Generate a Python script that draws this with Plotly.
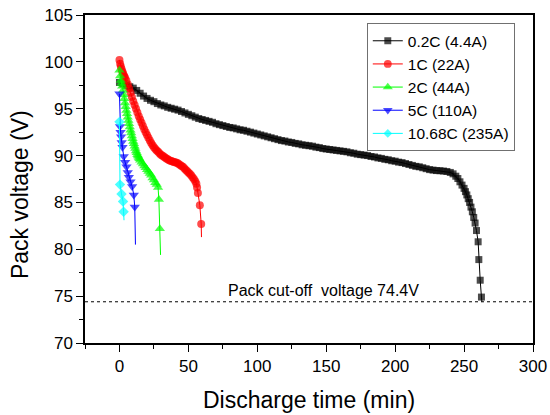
import plotly.graph_objects as go

# ---------------- data ----------------
t_02c = [0, 2.5, 5, 7.5, 10, 12.5, 15, 17.5, 20, 22.5, 25, 27.5, 30, 32.5, 35, 37.5,
         40, 42.5, 45, 47.5, 50, 52.5, 55, 57.5, 60, 62.5, 65, 67.5, 70, 72.5, 75,
         77.5, 80, 82.5, 85, 87.5, 90, 92.5, 95, 97.5, 100, 102.5, 105, 107.5, 110,
         112.5, 115, 117.5, 120, 122.5, 125, 127.5, 130, 132.5, 135, 137.5, 140,
         142.5, 145, 147.5, 150, 152.5, 155, 157.5, 160, 162.5, 165, 167.5, 170,
         172.5, 175, 177.5, 180, 182.5, 185, 187.5, 190, 192.5, 195, 197.5, 200,
         202.5, 205, 207.5, 210, 212.5, 215, 217.5, 220, 222.5, 225, 227.5, 230,
         232.5, 235, 237.5, 240, 242, 244, 245.5, 247, 248.5, 250, 251, 252, 253,
         254, 255, 256, 257, 258, 259, 260.2, 260.7, 261.7, 262.6, 262.9]
v_02c = [97.8, 97.65, 97.5, 97.35, 97.2, 96.95, 96.65, 96.35, 96.1, 95.9, 95.75,
         95.55, 95.4, 95.3, 95.15, 95.05, 94.95, 94.85, 94.7, 94.55, 94.4, 94.25,
         94.1, 93.95, 93.85, 93.75, 93.65, 93.55, 93.4, 93.3, 93.2, 93.1, 93.0,
         92.95, 92.85, 92.75, 92.7, 92.6, 92.5, 92.4, 92.3, 92.2, 92.1, 92.0, 91.9,
         91.8, 91.7, 91.6, 91.55, 91.45, 91.4, 91.3, 91.25, 91.15, 91.1, 91.05, 91.0,
         90.9, 90.85, 90.75, 90.7, 90.65, 90.6, 90.55, 90.5, 90.45, 90.4, 90.3, 90.25,
         90.15, 90.1, 90.05, 90.0, 89.9, 89.85, 89.75, 89.7, 89.6, 89.55, 89.45, 89.4,
         89.3, 89.25, 89.15, 89.05, 88.95, 88.85, 88.8, 88.7, 88.6, 88.5, 88.45, 88.4,
         88.38, 88.35, 88.3, 88.2, 88.05, 87.8, 87.55, 87.2, 86.85, 86.5, 86.15, 85.8,
         85.4, 85.0, 84.5, 84.0, 83.4, 82.8, 82.0, 80.8, 78.9, 76.7, 74.9, 74.4]

t_1c = [0, 0.5, 1, 1.5, 2, 2.5, 3, 3.5, 4, 5, 6, 7, 8, 9, 10, 11, 12, 13, 14, 15, 16,
        17, 18, 19, 20, 21, 22, 23, 24, 25, 26, 27, 28, 29, 30, 31, 32, 33, 34, 35,
        36, 37, 38, 39, 40, 41, 42, 43, 44, 45, 46, 47, 48, 49, 50, 51, 52, 53, 54,
        55, 55.8, 56.3, 56.9, 58.3, 59.3, 59.5]
v_1c = [100.2, 99.8, 99.5, 99.25, 99.0, 98.8, 98.6, 98.45, 98.3, 98.0, 97.6, 97.15,
        96.7, 96.25, 95.8, 95.4, 95.0, 94.6, 94.2, 93.85, 93.5, 93.15, 92.8, 92.5,
        92.2, 91.9, 91.6, 91.35, 91.1, 90.9, 90.7, 90.55, 90.4, 90.25, 90.1, 90.0,
        89.9, 89.8, 89.7, 89.6, 89.5, 89.45, 89.4, 89.35, 89.3, 89.25, 89.2, 89.1,
        89.0, 88.9, 88.8, 88.65, 88.5, 88.35, 88.2, 88.05, 87.9, 87.7, 87.5, 87.25,
        87.0, 86.6, 86.0, 84.7, 82.7, 81.3]

t_2c = [0, 0.5, 1, 1.5, 2, 2.5, 3, 3.5, 4, 4.5, 5, 5.5, 6, 6.5, 7, 7.5, 8, 8.5, 9,
        9.5, 10, 10.5, 11, 11.5, 12, 12.5, 13, 13.5, 14, 14.5, 15, 16, 17, 18, 19,
        20, 21, 22, 23, 24, 25, 26, 27, 28, 28.6, 29.3, 29.8]
v_2c = [99.1, 98.5, 98.0, 97.7, 97.4, 96.95, 96.5, 96.05, 95.6, 95.2, 94.8, 94.45,
        94.1, 93.75, 93.4, 93.05, 92.7, 92.4, 92.1, 91.8, 91.5, 91.25, 91.0, 90.75,
        90.5, 90.3, 90.1, 89.95, 89.8, 89.65, 89.5, 89.3, 89.1, 88.9, 88.7, 88.5,
        88.3, 88.1, 87.9, 87.6, 87.4, 87.1, 86.9, 86.6, 85.3, 82.2, 79.4]

t_5c = [0, 0.4, 0.8, 1.2, 1.6, 2.2, 3.1, 4.1, 5.1, 6.0, 6.8, 8.0, 9.2, 10.4, 11.1, 11.6]
v_5c = [96.6, 93.1, 92.5, 92.0, 91.4, 90.9, 89.9, 89.3, 88.8, 88.2, 87.7, 87.2, 86.7,
        85.8, 84.5, 80.5]

t_1068c = [0, 0.4, 1.5, 2.6, 3.0, 3.3]
v_1068c = [93.6, 86.9, 85.9, 85.1, 84.0, 83.1]

series_names = ["0.2C (4.4A)", "1C (22A)", "2C (44A)", "5C (110A)", "10.68C (235A)"]
cutoff_voltage = 74.4
cutoff_label = "Pack cut-off  voltage 74.4V"
x_title = "Discharge time (min)"
y_title = "Pack voltage (V)"

# ---------------- figure ----------------
FONT = "Arial, 'Liberation Sans', sans-serif"
styles = [
    dict(color="#000000", symbol="square", size=7),
    dict(color="#FF0000", symbol="circle", size=8),
    dict(color="#00FF00", symbol="triangle-up", size=9),
    dict(color="#0000FF", symbol="triangle-down", size=9),
    dict(color="#00FFFF", symbol="diamond", size=8),
]
data = [(t_02c, v_02c), (t_1c, v_1c), (t_2c, v_2c), (t_5c, v_5c), (t_1068c, v_1068c)]

fig = go.Figure()
for (tx, vy), name, st in zip(data, series_names, styles):
    sizes = [st["size"]] * (len(tx) - 1) + [0]  # last point drawn as line end only
    fig.add_trace(go.Scatter(
        x=tx, y=vy, name=name, mode="lines+markers",
        line=dict(color=st["color"], width=1),
        marker=dict(color=st["color"], symbol=st["symbol"], size=sizes, line=dict(width=0)),
    ))

fig.add_shape(type="line", xref="paper", x0=0, x1=1, yref="y",
              y0=cutoff_voltage, y1=cutoff_voltage,
              line=dict(color="black", width=1, dash="dot"))
fig.add_annotation(x=148, y=cutoff_voltage, xref="x", yref="y", text=cutoff_label,
                   showarrow=False, yanchor="bottom", yshift=1,
                   font=dict(family=FONT, size=16, color="black"))
fig.add_annotation(x=-0.145, y=0.451, xref="paper", yref="paper", text=y_title,
                   textangle=-90, showarrow=False, xanchor="center", yanchor="middle",
                   font=dict(family=FONT, size=23, color="black"))

axis_common = dict(
    showline=True, mirror=True, linecolor="black", linewidth=1.5,
    ticks="outside", ticklen=7, tickwidth=1.2, tickcolor="black",
    showgrid=False, zeroline=False, automargin=False, ticklabeloverflow="allow",
    tickfont=dict(family=FONT, size=17, color="black"),
)
fig.update_xaxes(range=[-25, 300], tickmode="linear", tick0=0, dtick=50,
                 minor=dict(ticks="outside", ticklen=4, dtick=25, tick0=0,
                            tickcolor="black", tickwidth=1),
                 title=dict(text=x_title, font=dict(family=FONT, size=23, color="black"),
                            standoff=17),
                 **axis_common)
fig.update_yaxes(range=[70, 105], tickmode="linear", tick0=70, dtick=5,
                 minor=dict(ticks="outside", ticklen=4, dtick=2.5, tick0=70,
                            tickcolor="black", tickwidth=1),
                 **axis_common)

fig.update_layout(
    width=550, height=415,
    margin=dict(l=85, r=17, t=15, b=72, autoexpand=False),
    paper_bgcolor="white", plot_bgcolor="white",
    showlegend=True,
    legend=dict(x=0.629, y=0.975, xanchor="left", yanchor="top",
                bordercolor="#707070", borderwidth=1, bgcolor="white",
                font=dict(family=FONT, size=15.5, color="black"),
                tracegroupgap=0, itemwidth=30),
)

# remove the default page margin so the 550x415 figure fills the window exactly
fig.write_html("out.html",
               config={"displayModeBar": False},
               post_script="document.body.style.margin='0';"
                           "document.documentElement.style.overflow='hidden';")
